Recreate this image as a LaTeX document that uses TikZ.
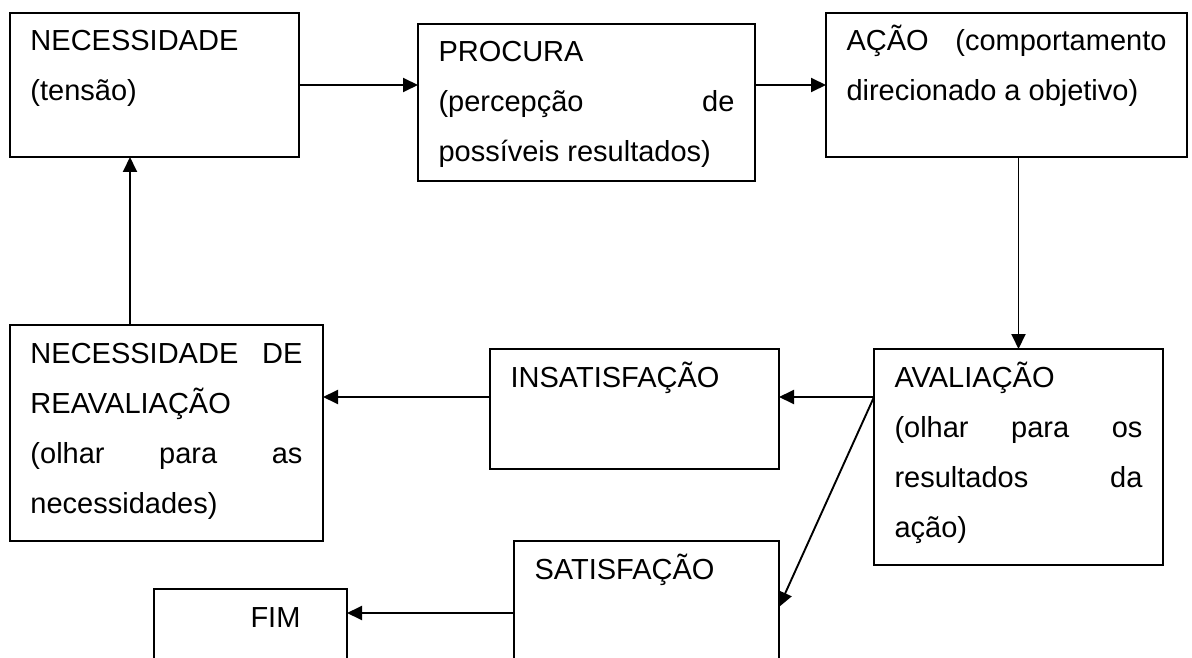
\documentclass[tikz,border=0pt]{standalone}
\usepackage{fontspec}
\setmainfont{Liberation Sans}
\usetikzlibrary{arrows.meta}

\newcommand{\caixatexto}[3]{\parbox[c][#2pt][t]{#1pt}{\raggedright\rule{0pt}{38pt}#3}}

\tikzset{
    caixa/.style={draw, line width=1.9pt, anchor=north west, inner xsep=20.5pt, inner ysep=0pt, outer sep=0pt},
    seta/.style={-{Triangle[length=15pt,width=14pt]}, line width=1.9pt}
}

\begin{document}
\begin{tikzpicture}[x=1pt, y=-1pt, font=\fontsize{29}{50}\selectfont]
    \useasboundingbox (0,0) rectangle (1192,658);
    \clip (0,0) rectangle (1192,658);

    \node[caixa] (nec) at (10,13) {\caixatexto{248}{144}{NECESSIDADE\\(tensão)}};
    \node[caixa] (proc) at (418,24) {\caixatexto{296}{157}{PROCURA\\(percepção\hfill de\\possíveis resultados)}};
    \node[caixa] (acao) at (826,13) {\caixatexto{320}{144}{AÇÃO\hfill(comportamento\\direcionado a objetivo)}};
    \node[caixa] (aval) at (874,349) {\caixatexto{248}{216}{AVALIAÇÃO\\(olhar\hfill para\hfill os\\resultados\hfill da\\ação)}};
    \node[caixa] (insat) at (490,349) {\caixatexto{248}{120}{INSATISFAÇÃO}};
    \node[caixa] (reav) at (10,325) {\caixatexto{272}{216}{NECESSIDADE\hfill DE\\REAVALIAÇÃO\\(olhar\hfill para\hfill as\\necessidades)}};
    \node[caixa] (sat) at (514,541) {\caixatexto{224}{150}{SATISFAÇÃO}};
    \node[caixa] (fim) at (154,589) {\caixatexto{152}{120}{\hspace*{76pt}FIM}};

    \coordinate (saida) at ([yshift=-48pt]aval.north west);
    \coordinate (sobe) at ([xshift=120pt]reav.north west);
    \coordinate (satin) at ([yshift=-66pt]sat.north east);
    \coordinate (fimin) at ([yshift=-24pt]fim.north east);

    \draw[seta] (nec.east) -- (nec.east -| proc.west);
    \draw[seta] (acao.west -| proc.east) -- (acao.west);
    \draw[seta] (acao.south -| aval.north) -- (aval.north);
    \draw[seta] (saida) -- (saida -| insat.east);
    \draw[seta] (saida -| insat.west) -- (saida -| reav.east);
    \draw[seta] (sobe) -- (sobe |- nec.south);
    \draw[seta] (saida) -- (satin);
    \draw[seta] (fimin -| sat.west) -- (fimin);
\end{tikzpicture}
\end{document}
